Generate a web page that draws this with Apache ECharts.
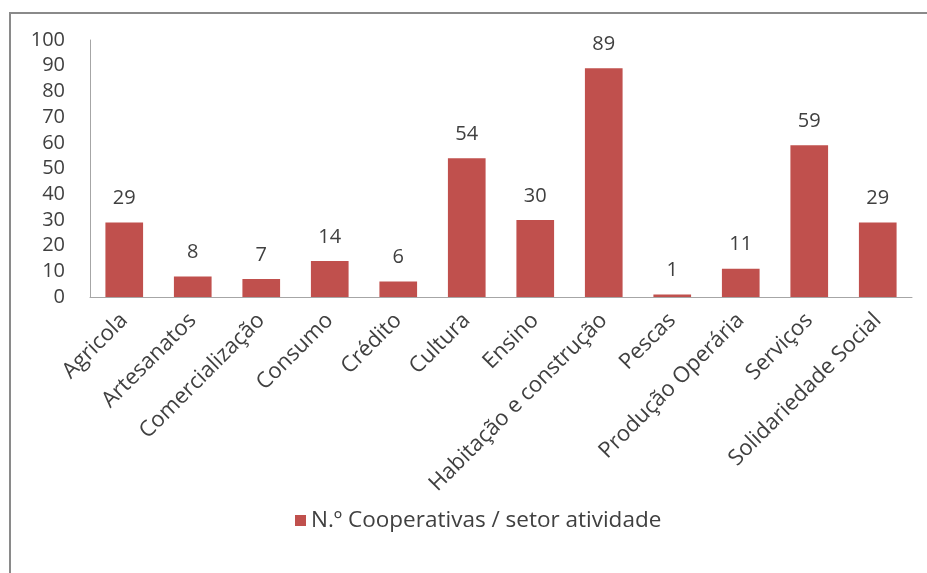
<!DOCTYPE html>
<html>
<head>
<meta charset="utf-8">
<script src="https://cdn.jsdelivr.net/npm/echarts@6/dist/echarts.min.js"></script>
<style>
  html, body { margin: 0; padding: 0; background: #fff; }
  #chart { width: 927px; height: 573px; }
</style>
</head>
<body>
<div id="chart"></div>
<script>
// Setores de atividade e número de cooperativas em cada um
const setores = ['Agricola', 'Artesanatos', 'Comercialização', 'Consumo', 'Crédito', 'Cultura',
  'Ensino', 'Habitação e construção', 'Pescas', 'Produção Operária', 'Serviços', 'Solidariedade Social'];
const cooperativas = [29, 8, 7, 14, 6, 54, 30, 89, 1, 11, 59, 29];
const nomeSerie = 'N.º Cooperativas / setor atividade';
const yTicks = [0, 10, 20, 30, 40, 50, 60, 70, 80, 90, 100];

const FONT = 'Open Sans, Lato, sans-serif';
const TXT = '#404040';

const chart = echarts.init(document.getElementById('chart'), null, { renderer: 'canvas' });
chart.setOption({
  animation: false,
  backgroundColor: '#fff',
  graphic: [{
    type: 'rect',
    shape: { x: 10, y: 13, width: 940, height: 600 },
    style: { fill: 'none', stroke: '#8a8a8a', lineWidth: 2 },
    silent: true
  }],
  grid: { left: 90, right: 15, top: 40, bottom: 276, containLabel: false },
  legend: {
    data: [nomeSerie],
    top: 504,
    left: 290,
    icon: 'rect',
    itemWidth: 11,
    itemHeight: 11,
    itemGap: 9,
    textStyle: { fontFamily: FONT, fontSize: 22.5, color: TXT }
  },
  xAxis: {
    type: 'category',
    data: setores,
    axisLine: { lineStyle: { color: '#a6a6a6', width: 1 } },
    axisTick: { show: false },
    axisLabel: {
      interval: 0,
      rotate: 45,
      margin: 20,
      fontFamily: FONT,
      fontSize: 22,
      color: TXT
    }
  },
  yAxis: {
    type: 'value',
    min: yTicks[0],
    max: yTicks[yTicks.length - 1],
    interval: 10,
    splitLine: { show: false },
    axisLine: { show: true, lineStyle: { color: '#a6a6a6', width: 1 } },
    axisTick: { show: false },
    axisLabel: { margin: 25, fontFamily: FONT, fontSize: 20, color: TXT }
  },
  series: [{
    name: nomeSerie,
    type: 'bar',
    data: cooperativas,
    barCategoryGap: '45%',
    itemStyle: { color: '#C0504D' },
    label: {
      show: true,
      position: 'top',
      distance: 14,
      fontFamily: FONT,
      fontSize: 20,
      color: TXT
    }
  }]
});
</script>
</body>
</html>
